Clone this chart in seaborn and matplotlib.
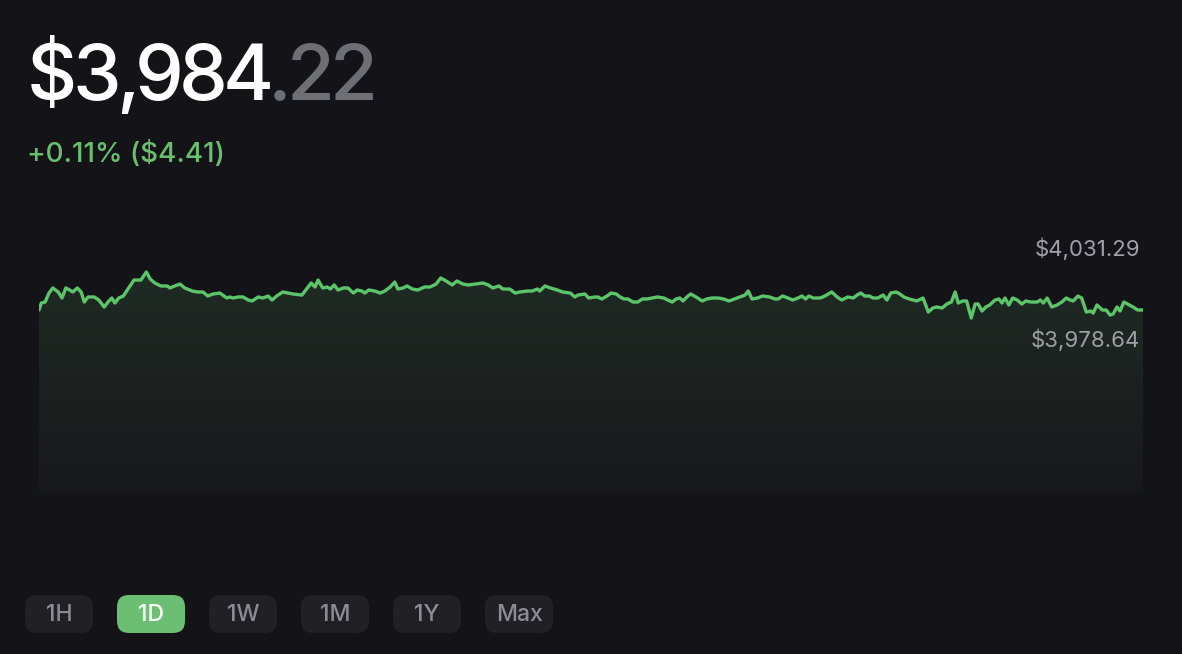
import matplotlib
matplotlib.use('Agg')
import numpy as np
import pandas as pd
import matplotlib.pyplot as plt
from matplotlib.patches import FancyBboxPatch, Polygon
from matplotlib.colors import LinearSegmentedColormap
from matplotlib.transforms import IdentityTransform
import seaborn as sns

# minutes since the start of the day, and the price at that minute
minutes = [0, 3, 8, 13, 18, 25, 30, 35, 40, 44, 50, 55, 59, 64, 72, 78, 85, 90, 95, 99,
           104, 110, 116, 124, 133, 140, 145, 151, 159, 167, 171, 177, 184, 190, 200, 207, 214, 220, 227, 236,
           245, 249, 253, 260, 266, 273, 278, 286, 292, 299, 304, 310, 318, 325, 331, 343, 350, 355, 360,
           364, 370, 376, 380, 385, 390, 397, 403, 410, 415, 421, 425, 430, 438, 445, 451, 458, 464, 468,
           475, 480, 487, 494, 503, 510, 518, 524, 531, 539, 545, 553, 560, 569, 579, 586, 592, 600, 605,
           614, 621, 627, 637, 643, 650, 653, 660, 667, 676, 683, 693, 699, 703, 712, 717,
           725, 729, 734, 741, 746, 753, 758, 763, 768, 775, 781, 787, 793, 800, 807, 815, 820, 826, 831,
           836, 840, 845, 850, 857, 865, 871, 878, 886, 893, 900, 907, 914, 921, 925, 930, 937, 944, 953,
           960, 964, 970, 977, 983, 990, 995, 1000, 1004, 1010, 1019, 1025, 1034, 1041, 1047, 1055, 1062,
           1067, 1072, 1077,
           1083, 1088, 1094, 1101, 1106, 1111, 1118, 1123, 1128, 1135, 1140, 1145, 1153, 1160, 1166, 1171,
           1178, 1184, 1190, 1195, 1199, 1205, 1210, 1216, 1221, 1225, 1230, 1235, 1240, 1247, 1252, 1256,
           1260, 1265, 1270, 1276, 1282, 1287, 1294, 1302, 1306, 1310, 1315, 1321, 1328, 1334, 1340, 1345,
           1349, 1355, 1360, 1366, 1372, 1375, 1380, 1387, 1392, 1397, 1401, 1406, 1410, 1415, 1420, 1427,
           1433, 1440]
prices = [3987.8, 3995.8, 3996.9, 4007.2, 4013.0, 4008.4, 4001.5, 4013.0, 4010.7, 4008.4, 4013.0, 4008.4,
          3996.9, 4002.7, 4002.7, 3999.2, 3991.2, 3996.9, 4001.5, 3995.8,
          4001.5, 4003.8, 4011.8, 4022.1, 4022.1, 4031.3, 4023.3, 4018.7, 4015.3, 4015.3, 4013.0, 4015.3,
          4017.5, 4013.0, 4009.5, 4008.4, 4008.4, 4003.8, 4006.1, 4007.2,
          4001.5, 4002.7, 4001.5, 4002.7, 4002.7, 3999.2, 3998.1, 4002.7, 4001.5, 4003.8, 3999.2, 4003.8,
          4008.4, 4007.2, 4006.1, 4004.9, 4013.0, 4018.7, 4014.1,
          4022.1, 4013.0, 4014.1, 4011.8, 4016.4, 4010.7, 4013.0, 4013.0, 4007.2, 4010.7, 4009.5, 4007.2,
          4010.7, 4009.5, 4007.2, 4009.5, 4014.1, 4019.8, 4011.8,
          4013.0, 4015.3, 4011.8, 4010.7, 4014.1, 4014.1, 4017.5, 4024.4, 4021.0, 4016.4, 4021.0, 4017.5,
          4016.4, 4017.5, 4018.7, 4016.4, 4013.0, 4015.3, 4011.8,
          4011.8, 4007.2, 4008.4, 4009.5, 4009.5, 4011.8, 4009.5, 4015.3, 4013.0, 4010.7, 4008.4, 4007.2,
          4002.7, 4004.9, 4006.1, 4001.5,
          4002.7, 4002.7, 4000.4, 4003.8, 4007.2, 4006.1, 4002.7, 4000.4, 4000.4, 3996.9, 3996.9, 4000.4,
          4000.4, 4001.5, 4002.7, 4001.5, 3999.2, 3996.9, 4000.4,
          4001.5, 3998.1, 4002.7, 4006.1, 4002.7, 3998.1, 4000.4, 4001.5, 4001.5, 4000.4, 3998.1, 4000.4,
          4002.7, 4004.9, 4009.5, 4000.4, 4001.5, 4003.8, 4002.7,
          4000.4, 4000.4, 4003.8, 4001.5, 3999.2, 4001.5, 4003.8, 4000.4, 4003.8, 4001.5, 4001.5, 4003.8,
          4008.4, 4002.7, 3999.2, 4002.7, 4001.5,
          4004.9, 4007.2, 4003.8,
          4003.8, 4001.5, 4001.5, 4004.9, 3999.2, 4007.2, 4008.4, 4006.1, 4002.7, 4000.4, 3999.2, 3998.1,
          4001.5, 3985.5, 3990.1, 3991.2,
          3990.1, 3994.6, 3996.9, 4008.4, 3995.8, 3998.1, 3998.1, 3978.6, 3994.6, 3994.6, 3986.6, 3991.2,
          3993.5, 3999.2, 4000.4, 3995.8,
          4001.5, 3993.5, 4001.5, 3999.2, 3994.6, 3998.1, 3996.9, 3996.9, 3999.2, 3995.8, 4001.5, 3991.2,
          3993.5, 3996.9, 4001.5, 3999.2,
          3998.1, 4003.8, 4001.5, 3985.5, 3986.6, 3984.3, 3993.5, 3987.8, 3987.8, 3982.0, 3983.2, 3991.2,
          3986.6, 3996.9, 3994.6, 3991.2,
          3987.8, 3987.8]

price_main = '$3,984'
price_cents = '.22'
change_text = '+0.11% ($4.41)'
high_label = '$4,031.29'
low_label = '$3,978.64'
ranges = ['1H', '1D', '1W', '1M', '1Y', 'Max']
active_range = '1D'

BG = '#141418'
GREEN = '#5cc56a'
W, H = 1182, 654

sns.set_theme(style='dark')
plt.rcParams['font.family'] = ['Inter', 'DejaVu Sans']

fig = plt.figure(figsize=(W / 100, H / 100), dpi=100)
fig.patch.set_facecolor(BG)

ax = fig.add_axes([39 / W, 1 - 493 / H, 1104 / W, 293 / H])
ax.set_facecolor(BG)
ymin, ymax = 3778.3, 4113.7

df = pd.DataFrame({'minute': minutes, 'price': prices})
sns.lineplot(data=df, x='minute', y='price', ax=ax, color=GREEN, linewidth=2.4, zorder=3)

# gradient under the line
cmap = LinearSegmentedColormap.from_list('fade', ['#17181b', '#1c211f', '#1f2b25'])
grad = np.linspace(0, 1, 256).reshape(-1, 1)
img = ax.imshow(grad, extent=[0, 1440, ymin, max(prices)], origin='lower',
                aspect='auto', cmap=cmap, zorder=1)
verts = [(0, ymin)] + list(zip(minutes, prices)) + [(1440, ymin)]
clip = Polygon(verts, closed=True, facecolor='none', edgecolor='none', transform=ax.transData)
ax.add_patch(clip)
img.set_clip_path(clip)

ax.set_xlim(0, 1440)
ax.set_ylim(ymin, ymax)
ax.axis('off')

fig.text(1140 / W, 1 - 249 / H, high_label, ha='right', va='center', fontsize=16, color='#a0a0a6')
fig.text(1140 / W, 1 - 340 / H, low_label, ha='right', va='center', fontsize=16, color='#a0a0a6')

# headline price, drawn glyph by glyph with tight tracking
fig.canvas.draw()
x = 27
for chars, col in [(price_main, 'white'), (price_cents, '#6e6f75')]:
    for ch in chars:
        t = fig.text(x / W, 1 - 100 / H, ch, fontsize=56, color=col, va='baseline',
                     fontweight='medium')
        bb = t.get_window_extent(renderer=fig.canvas.get_renderer())
        x = bb.x1 - 5

fig.text(27 / W, 1 - 162 / H, change_text, fontsize=20, color='#6abf6e', va='baseline',
         fontweight='medium')

# range selector pills
for i, lab in enumerate(ranges):
    x0 = 25 + 92 * i
    active = lab == active_range
    pill = FancyBboxPatch((x0, H - 633), 68, 38, boxstyle='round,pad=0,rounding_size=12',
                          facecolor='#6cbf72' if active else '#202025', edgecolor='none',
                          transform=IdentityTransform())
    fig.add_artist(pill)
    fig.text((x0 + 34) / W, 1 - 615 / H, lab, ha='center', va='center', fontsize=16.5,
             color='white' if active else '#8c8c92', fontweight='medium')

fig.savefig('out.png', dpi=100, facecolor=BG)
